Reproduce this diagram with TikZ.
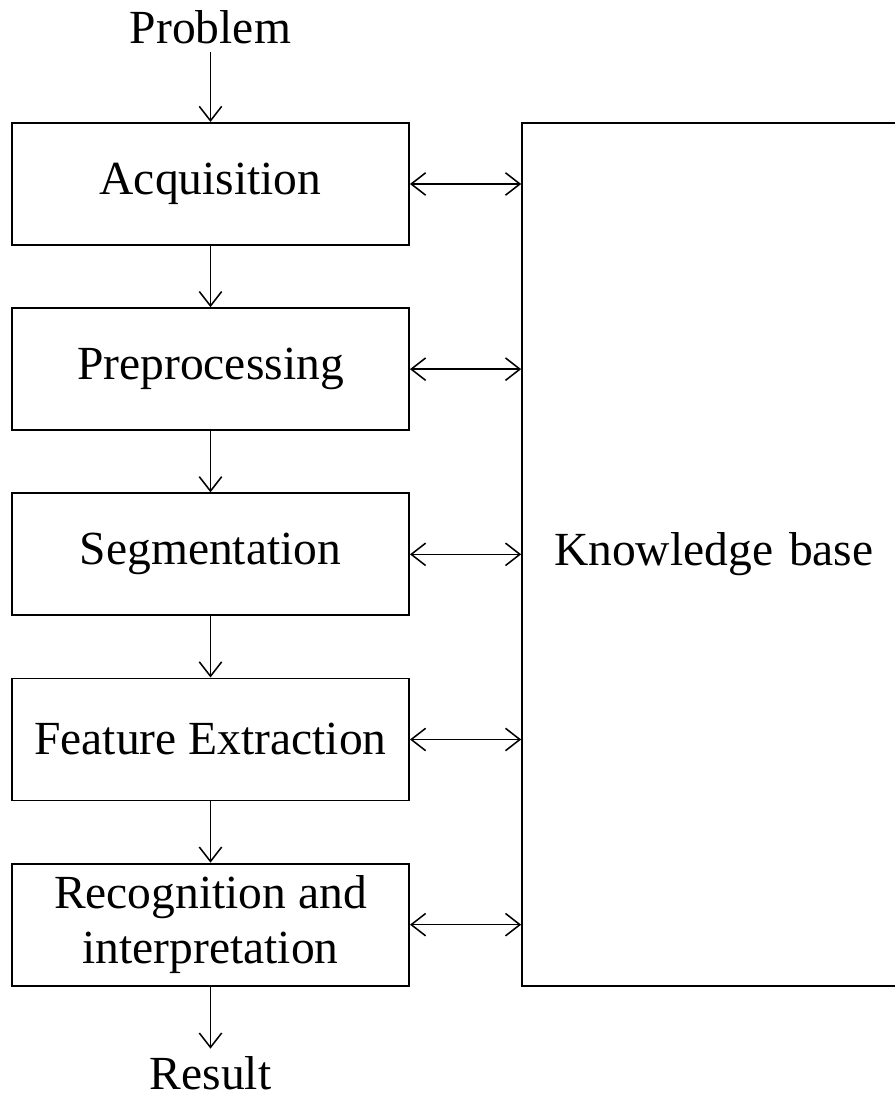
\documentclass[tikz,border=0pt]{standalone}
\usepackage{fontspec}
\setmainfont{Liberation Serif}
\usetikzlibrary{arrows.meta,positioning}

\begin{document}
\begin{tikzpicture}[
  font=\fontsize{33.8}{39}\selectfont,
  stage/.style={draw,line width=1.4pt,align=center,minimum width=9.925cm,minimum height=3.05cm,inner sep=2pt},
  lbl/.style={inner sep=0.2cm},
  arr/.style={-{Straight Barb[length=3.6mm,width=5.6mm,line width=1.1pt]},line width=1.1pt},
  dblarr/.style={{Straight Barb[length=3.6mm,width=5.6mm,line width=1.1pt]}-{Straight Barb[length=3.6mm,width=5.6mm,line width=1.1pt]},line width=1.1pt}
]
\useasboundingbox (0,0) rectangle (22.375,-27.475);
\node[stage, anchor=north west] (acq) at (0.275,-3.05) {Acquisition};
\node[stage, below=1.53cm of acq] (pre) {Preprocessing};
\node[stage, below=1.53cm of pre] (seg) {Segmentation};
\node[stage, below=1.53cm of seg] (feat) {Feature Extraction};
\node[stage, below=1.53cm of feat] (rec) {Recognition and\\interpretation};
\node[draw, line width=1.4pt, anchor=north west, minimum width=10cm, minimum height=21.575cm,
  text width=9cm, align=left, inner sep=0.8cm] (kb) at ([xshift=2.78cm]acq.north east) {Knowledge base};
\node[lbl, above=1.75cm of acq] (problem) {Problem};
\node[lbl, below=1.55cm of rec] (result) {Result};
\draw[arr] (problem)--(acq);
\draw[arr] (acq)--(pre);
\draw[arr] (pre)--(seg);
\draw[arr] (seg)--(feat);
\draw[arr] (feat)--(rec);
\draw[arr] (rec)--(result);
\foreach \s in {acq,pre,seg,feat,rec}
  \draw[dblarr] (\s.east)--(\s.east -| kb.west);
\end{tikzpicture}
\end{document}
